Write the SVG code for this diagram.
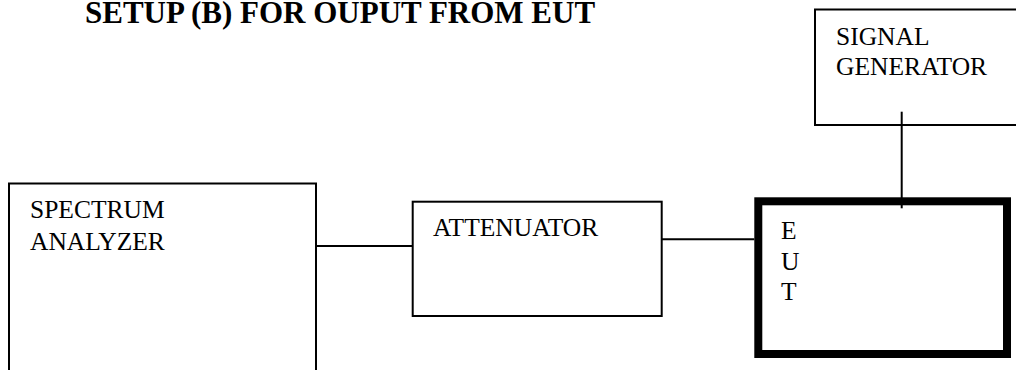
<svg xmlns="http://www.w3.org/2000/svg" width="1016" height="370" viewBox="0 0 1016 370">
  <style>
    .box { fill: #fff; stroke: #000; stroke-width: 2; }
    .thick { fill: #fff; stroke: #000; stroke-width: 8; }
    .wire { stroke: #000; stroke-width: 2; fill: none; }
    .lbl { font-family: "Liberation Serif", "Times New Roman", serif; font-size: 25.5px; fill: #000; }
    .title { font-family: "Liberation Serif", "Times New Roman", serif; font-size: 31px; font-weight: bold; fill: #000; }
  </style>
  <rect width="1016" height="370" fill="#fff"/>

  <text class="title" x="85" y="23">SETUP (B) FOR OUPUT FROM EUT</text>

  <g id="signal-generator">
    <rect class="box" x="815" y="9.5" width="210" height="115.5"/>
    <text class="lbl" x="836" y="45">SIGNAL</text>
    <text class="lbl" x="836" y="75">GENERATOR</text>
  </g>

  <g id="spectrum-analyzer">
    <rect class="box" x="9" y="183.5" width="307" height="200"/>
    <text class="lbl" x="30" y="218">SPECTRUM</text>
    <text class="lbl" x="30" y="250">ANALYZER</text>
  </g>

  <g id="attenuator">
    <rect class="box" x="412.7" y="201.7" width="249" height="114.3"/>
    <text class="lbl" x="433" y="236">ATTENUATOR</text>
  </g>

  <g id="eut">
    <rect class="thick" x="758.3" y="201.3" width="248.7" height="152.7"/>
    <text class="lbl" x="781" y="239">E</text>
    <text class="lbl" x="781" y="269.5">U</text>
    <text class="lbl" x="781" y="300">T</text>
  </g>

  <g id="connectors">
    <line class="wire" x1="316" y1="246" x2="412.7" y2="246"/>
    <line class="wire" x1="661.7" y1="239.3" x2="754.3" y2="239.3"/>
    <line class="wire" x1="901.7" y1="111.7" x2="901.7" y2="208.3"/>
  </g>
</svg>
